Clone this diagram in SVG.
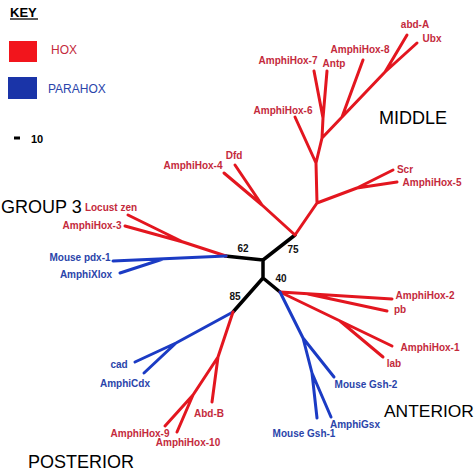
<svg xmlns="http://www.w3.org/2000/svg" width="474" height="474" viewBox="0 0 474 474">
<style>
.r{stroke:#e3161f;stroke-width:3;fill:none;stroke-linecap:round;stroke-linejoin:round}
.b{stroke:#1b3bc4;stroke-width:3;fill:none;stroke-linecap:round;stroke-linejoin:round}
.k{stroke:#000;stroke-width:3.5;fill:none;stroke-linecap:round;stroke-linejoin:round}
text{font-family:"Liberation Sans",Arial,sans-serif}
.tr{font-size:10px;font-weight:bold;fill:#c42a3c;text-anchor:middle}
.tb{font-size:10px;font-weight:bold;fill:#2a44aa;text-anchor:middle}
.tn{font-size:10px;font-weight:bold;fill:#111;text-anchor:middle}
.tg{font-size:18px;fill:#000}
</style>
<rect width="474" height="474" fill="#fff"/>
<g id="key">
<text x="10" y="17" style="font-size:13px;font-weight:bold" fill="#000">KEY</text>
<line x1="10" y1="19" x2="38" y2="19" stroke="#000" stroke-width="1.3"/>
<rect x="9" y="41" width="28" height="21" fill="#f2151c"/>
<text x="51" y="54" style="font-size:12px" fill="#c42a3c">HOX</text>
<rect x="8" y="77" width="29" height="22" fill="#1a34a8"/>
<text x="48" y="93" style="font-size:12px" fill="#2a44aa">PARAHOX</text>
<line x1="14" y1="138" x2="20" y2="138" stroke="#000" stroke-width="3"/>
<text x="31" y="143" style="font-size:11px;font-weight:bold" fill="#000">10</text>
</g>
<g id="connectors">
<path class="k" d="M225,256 L263,260 L263,278 M263,260 L295,235 M263,278 L280,292 M263,278 L233,312"/>
<path class="r" d="M295,235 L317,203 L316,163 L295,117 M316,163 L322,138 L323,118 L314,71 M323,118 L327,71 M322,138 L385,72 L407,35 M385,72 L417,43 M342,117 L363,60 M317,203 L357,188 L393,170 M357,188 L397,182 M295,235 L262,205 L235,165 M262,205 L224,173"/>
<path class="r" d="M226,256 L183,242 L128,215 M183,242 L125,226"/>
<path class="b" d="M226,256 L113,261 M163,259 L120,273"/>
<path class="r" d="M280,292 L392,299 M308,294 L387,311 M280,292 L392,346 M340,321 L383,357"/>
<path class="b" d="M280,292 L303,338 L334,377 M303,338 L312,373 L317,418 M312,373 L331,417"/>
<path class="b" d="M233,312 L176,343 L135,362 M176,343 L144,373"/>
<path class="r" d="M233,312 L218,357 L212,402 M218,357 L193,395 L165,426 M193,395 L177,432"/>
</g>
<g id="bootstrap">
<text class="tn" x="243" y="252">62</text>
<text class="tn" x="293" y="253">75</text>
<text class="tn" x="281" y="282">40</text>
<text class="tn" x="235" y="300">85</text>
</g>
<g id="hox-labels">
<text class="tr" x="415" y="28">abd-A</text>
<text class="tr" x="432" y="42">Ubx</text>
<text class="tr" x="360" y="53">AmphiHox-8</text>
<text class="tr" x="288" y="64">AmphiHox-7</text>
<text class="tr" x="334" y="67">Antp</text>
<text class="tr" x="283" y="114">AmphiHox-6</text>
<text class="tr" x="234" y="159">Dfd</text>
<text class="tr" x="193" y="169">AmphiHox-4</text>
<text class="tr" x="405" y="173">Scr</text>
<text class="tr" x="432" y="186">AmphiHox-5</text>
<text class="tr" x="111" y="211">Locust zen</text>
<text class="tr" x="92" y="229">AmphiHox-3</text>
<text class="tr" x="425" y="299">AmphiHox-2</text>
<text class="tr" x="400" y="313">pb</text>
<text class="tr" x="430" y="351">AmphiHox-1</text>
<text class="tr" x="394" y="367">lab</text>
<text class="tr" x="209" y="417">Abd-B</text>
<text class="tr" x="140" y="437">AmphiHox-9</text>
<text class="tr" x="188" y="446">AmphiHox-10</text>
</g>
<g id="parahox-labels">
<text class="tb" x="80" y="261">Mouse pdx-1</text>
<text class="tb" x="86" y="278">AmphiXlox</text>
<text class="tb" x="366" y="388">Mouse Gsh-2</text>
<text class="tb" x="355" y="428">AmphiGsx</text>
<text class="tb" x="304" y="437">Mouse Gsh-1</text>
<text class="tb" x="119" y="368">cad</text>
<text class="tb" x="125" y="387">AmphiCdx</text>
</g>
<g id="groups">
<text class="tg" x="379" y="123.5">MIDDLE</text>
<text class="tg" x="1" y="213">GROUP 3</text>
<text class="tg" x="384" y="416.5" style="font-size:17.4px">ANTERIOR</text>
<text class="tg" x="28" y="468">POSTERIOR</text>
</g>
</svg>
